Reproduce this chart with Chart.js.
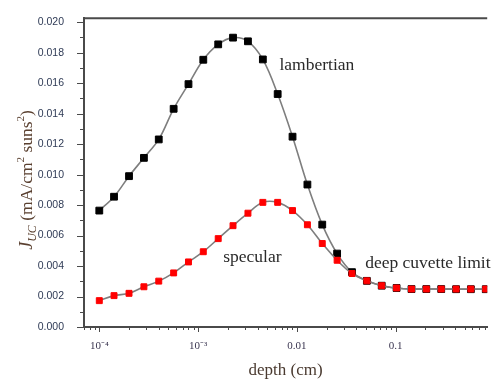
<!DOCTYPE html>
<html>
<head>
<meta charset="utf-8">
<script src="https://cdn.jsdelivr.net/npm/chart.js@4/dist/chart.umd.min.js"></script>
<style>
  html, body { margin: 0; padding: 0; background: #fff; }
  #wrap { width: 493px; height: 379px; position: relative; }
</style>
</head>
<body>
<div id="wrap"><canvas id="c"></canvas></div>
<script>
// ---- data ----
const depth = [0.0001, 0.000141, 0.0002, 0.000283, 0.0004, 0.000566, 0.0008, 0.00113, 0.0016, 0.00226,
  0.0032, 0.00453, 0.0064, 0.00905, 0.0128, 0.0181, 0.0256, 0.0362, 0.0512, 0.0724,
  0.1024, 0.145, 0.2048, 0.29, 0.41, 0.579, 0.819];
const lambertian = [0.00764, 0.00855, 0.00990, 0.01110, 0.01231, 0.01432, 0.01594, 0.01754, 0.01855, 0.01899,
  0.01875, 0.01756, 0.01529, 0.01249, 0.00935, 0.00672, 0.00482, 0.00360, 0.00303, 0.00271,
  0.00256, 0.00249, 0.00249, 0.00249, 0.00248, 0.00248, 0.00248];
const specular = [0.00173, 0.00206, 0.00221, 0.00264, 0.00301, 0.00355, 0.00427, 0.00494, 0.00580, 0.00665,
  0.00747, 0.00818, 0.00818, 0.00764, 0.00671, 0.00548, 0.00438, 0.00351, 0.00303, 0.00271,
  0.00256, 0.00249, 0.00249, 0.00249, 0.00249, 0.00249, 0.00249];
const xMajor = [0.0001, 0.001, 0.01, 0.1];
const xMajorLabels = ['10\u207B\u2074', '10\u207B\u00B3', '0.01', '0.1'];
const yTicks = [0, 0.002, 0.004, 0.006, 0.008, 0.010, 0.012, 0.014, 0.016, 0.018, 0.020];
const notes = [
  { text: 'lambertian', x: 0.00667, y: 0.0172 },
  { text: 'specular', x: 0.0018, y: 0.00454 },
  { text: 'deep cuvette limit', x: 0.0492, y: 0.00415 }
];

const pts = vals => depth.map((d, i) => ({ x: d, y: vals[i] }));
const LINE = '#7e7e7e';
const AXIS = '#4a4a4a';

// minor + major ticks, frame top, notes, y title
const decor = {
  id: 'decor',
  afterDraw(chart) {
    const { ctx, chartArea: a, scales: { x, y } } = chart;
    ctx.save();
    ctx.strokeStyle = AXIS; ctx.lineWidth = 1;
    // x ticks (log minor)
    for (let e = -5; e <= 0; e++) {
      for (let m = 1; m <= 9; m++) {
        const v = m * Math.pow(10, e);
        if (v < x.min || v > x.max) continue;
        const px = Math.round(x.getPixelForValue(v)) + 0.5;
        const len = m === 1 ? 5 : 3;
        ctx.beginPath(); ctx.moveTo(px, a.bottom); ctx.lineTo(px, a.bottom + len); ctx.stroke();
      }
    }
    // y ticks
    for (let i = 0; i <= 20; i++) {
      const v = i * 0.001;
      const py = Math.round(y.getPixelForValue(v)) + 0.5;
      const len = i % 2 === 0 ? 7 : 4;
      ctx.beginPath(); ctx.moveTo(a.left - len, py); ctx.lineTo(a.left, py); ctx.stroke();
    }
    // top frame
    ctx.lineWidth = 2;
    ctx.beginPath(); ctx.moveTo(a.left, a.top); ctx.lineTo(a.right, a.top); ctx.stroke();

    // notes
    ctx.fillStyle = '#2a2a2a';
    ctx.font = '17.5px "Liberation Serif", "DejaVu Serif", serif';
    ctx.textBaseline = 'middle'; ctx.textAlign = 'left';
    notes.forEach(n => ctx.fillText(n.text, x.getPixelForValue(n.x), y.getPixelForValue(n.y)));

    // y title: J_UC (mA/cm² suns²)
    ctx.translate(32, 180);
    ctx.rotate(-Math.PI / 2);
    ctx.fillStyle = '#5a4030';
    ctx.textBaseline = 'alphabetic';
    const big = '17.5px "Liberation Serif", serif';
    const bigI = 'italic 18px "Liberation Serif", serif';
    const smI = 'italic 12px "Liberation Serif", serif';
    const sm = '11px "Liberation Serif", serif';
    const parts = [
      { t: 'J', f: bigI, dy: 0 }, { t: 'UC', f: smI, dy: 4 },
      { t: ' (mA/cm', f: big, dy: 0 }, { t: '2', f: sm, dy: -8 },
      { t: ' suns', f: big, dy: 0 }, { t: '2', f: sm, dy: -8 }, { t: ')', f: big, dy: 0 }
    ];
    let w = 0;
    parts.forEach(p => { ctx.font = p.f; w += ctx.measureText(p.t).width; });
    let cx = -w / 2;
    parts.forEach(p => { ctx.font = p.f; ctx.fillText(p.t, cx, p.dy); cx += ctx.measureText(p.t).width; });
    ctx.restore();
  }
};

new Chart(document.getElementById('c'), {
  type: 'line',
  data: {
    datasets: [
      { label: 'specular', data: pts(specular), order: 0,
        borderColor: LINE, borderWidth: 1.6, tension: 0.35,
        pointStyle: 'rect', pointRadius: 4.2, pointBorderWidth: 1,
        pointBackgroundColor: '#ff0000', pointBorderColor: '#ff0000' },
      { label: 'lambertian', data: pts(lambertian), order: 1,
        borderColor: LINE, borderWidth: 1.6, tension: 0.35,
        pointStyle: 'rect', pointRadius: 4.8, pointBorderWidth: 1,
        pointBackgroundColor: '#000', pointBorderColor: '#000' }
    ]
  },
  options: {
    responsive: true, maintainAspectRatio: false, animation: false,
    layout: { padding: { top: 15, right: 0, left: 0, bottom: 0 } },
    plugins: { legend: { display: false }, tooltip: { enabled: false } },
    scales: {
      x: {
        type: 'logarithmic', min: 7.08e-5, max: 0.847,
        grid: { display: false },
        border: { display: true, color: AXIS, width: 2 },
        afterBuildTicks: s => { s.ticks = xMajor.map(v => ({ value: v, major: true })); },
        afterFit: s => { s.height = 52; },
        ticks: {
          autoSkip: false, maxRotation: 0, padding: 5,
          color: '#3a3550', font: { family: '"Liberation Serif", serif', size: 11 },
          callback: (v) => { const i = xMajor.indexOf(v); return i >= 0 ? xMajorLabels[i] : ''; }
        },
        title: { display: true, text: 'depth (cm)', color: '#4a3a30', padding: { top: 0, bottom: 0 },
          font: { family: '"Liberation Serif", serif', size: 17, lineHeight: 1 } }
      },
      y: {
        min: 0, max: 0.02026,
        grid: { display: false },
        border: { display: true, color: AXIS, width: 2 },
        afterBuildTicks: s => { s.ticks = yTicks.map(v => ({ value: v })); },
        afterFit: s => { s.width = 84; },
        ticks: {
          padding: 12, color: '#2e3a55',
          font: { family: '"Liberation Sans", sans-serif', size: 10.5 },
          callback: v => v.toFixed(3)
        }
      }
    }
  },
  plugins: [decor]
});
</script>
</body>
</html>
